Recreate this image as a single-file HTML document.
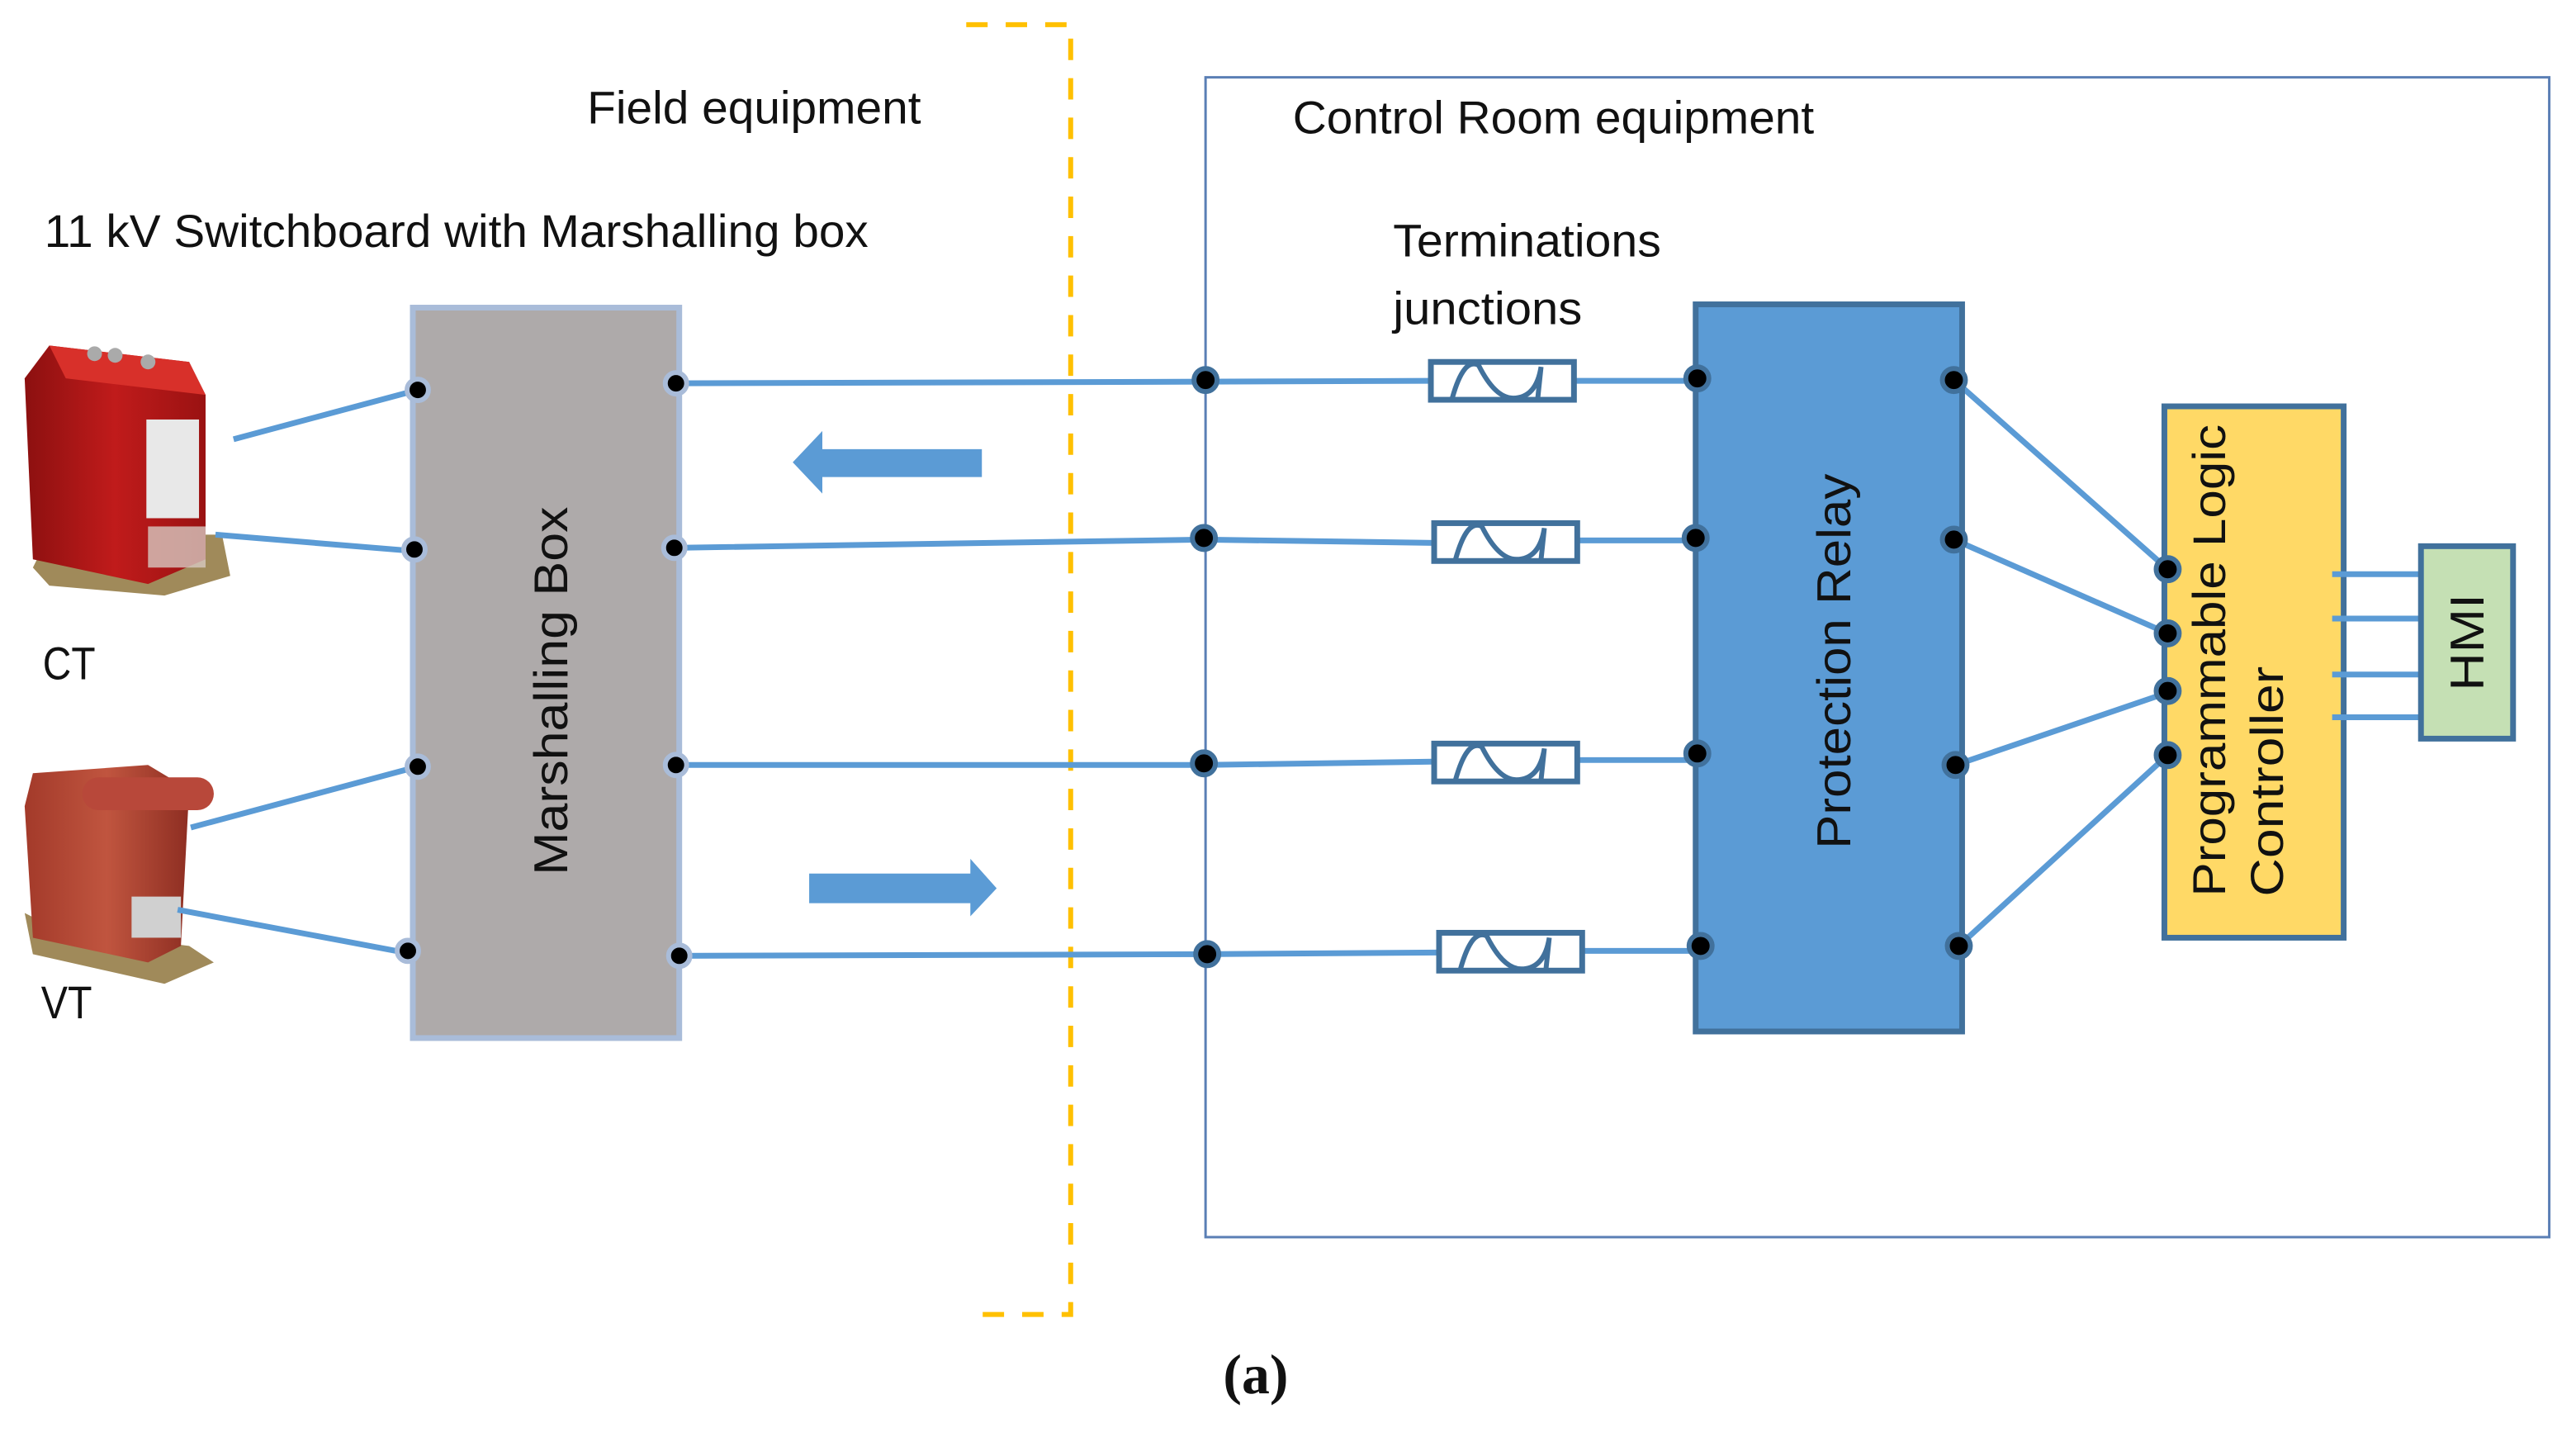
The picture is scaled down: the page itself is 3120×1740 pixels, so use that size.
<!DOCTYPE html>
<html><head><meta charset="utf-8"><style>html,body{margin:0;padding:0;background:#fff}svg{display:block}</style></head>
<body>
<svg width="3120" height="1740" viewBox="0 0 3120 1740" xmlns="http://www.w3.org/2000/svg" font-family="Liberation Sans, sans-serif">
<defs>
<linearGradient id="ctg" x1="0" x2="1"><stop offset="0" stop-color="#8c1010"/><stop offset="0.5" stop-color="#c01b1b"/><stop offset="1" stop-color="#9a1212"/></linearGradient>
<linearGradient id="vtg" x1="0" x2="1"><stop offset="0" stop-color="#a33a2a"/><stop offset="0.5" stop-color="#c0553f"/><stop offset="1" stop-color="#8e2e22"/></linearGradient>
<g id="term"><rect x="0" y="0" width="174" height="46" fill="#fff" stroke="#41719C" stroke-width="7"/><path d="M26 44 Q40 -6 58 4 Q78 44 100 44 Q128 44 134 6 L130 44" fill="none" stroke="#41719C" stroke-width="6"/></g>
</defs>
<g transform="scale(0.996)">
<path d="M1175 30 H1302 V1598 H1175" fill="none" stroke="#FFC000" stroke-width="6" stroke-dasharray="26 22"/>
<rect x="1466" y="94" width="1634" height="1410" fill="none" stroke="#5a7fb5" stroke-width="3"/>
<g font-size="56" fill="#111">
<text x="714" y="150" textLength="406" lengthAdjust="spacingAndGlyphs">Field equipment</text>
<text x="54" y="300" textLength="1002" lengthAdjust="spacingAndGlyphs">11 kV Switchboard with Marshalling box</text>
<text x="1572" y="162" textLength="634" lengthAdjust="spacingAndGlyphs">Control Room equipment</text>
<text x="1694" y="312" textLength="326" lengthAdjust="spacingAndGlyphs">Terminations</text>
<text x="1694" y="394" textLength="230" lengthAdjust="spacingAndGlyphs">junctions</text>
<text x="52" y="826" textLength="64" lengthAdjust="spacingAndGlyphs">CT</text>
<text x="50" y="1238" textLength="62" lengthAdjust="spacingAndGlyphs">VT</text>
</g>
<g>
<polygon points="40,690 60,650 270,650 280,700 200,724 60,712" fill="#a08a5a"/>
<polygon points="60,420 230,440 250,480 250,680 180,710 40,680 30,460" fill="url(#ctg)"/>
<polygon points="60,420 230,440 250,480 80,460" fill="#d8302a"/>
<rect x="178" y="510" width="64" height="120" fill="#e8e8e8"/>
<rect x="180" y="640" width="70" height="50" fill="#d7c8c0" opacity="0.8"/>
<circle cx="115" cy="430" r="9" fill="#aaa"/><circle cx="140" cy="432" r="9" fill="#aaa"/><circle cx="180" cy="440" r="9" fill="#aaa"/>
</g>
<g>
<polygon points="30,1110 70,1130 230,1150 260,1170 200,1196 40,1160" fill="#a08a5a"/>
<polygon points="40,940 180,930 230,960 220,1150 180,1170 40,1140 30,980" fill="url(#vtg)"/>
<rect x="100" y="945" width="160" height="40" rx="20" fill="#b8483a"/>
<rect x="160" y="1090" width="60" height="50" fill="#d0d0d0"/>
</g>
<g stroke="#5B9BD5" stroke-width="7">
<line x1="284" y1="534" x2="508" y2="474"/>
<line x1="262" y1="650" x2="504" y2="670"/>
<line x1="232" y1="1006" x2="508" y2="932"/>
<line x1="216" y1="1106" x2="524" y2="1164"/>
</g>
<rect x="502" y="374" width="324" height="888" fill="#AEAAAA" stroke="#A9BCD9" stroke-width="7"/>
<text transform="translate(690,840) rotate(-90)" text-anchor="middle" font-size="58" fill="#111" textLength="448" lengthAdjust="spacingAndGlyphs">Marshalling Box</text>
<g stroke="#5B9BD5" stroke-width="7" fill="none">
<path d="M822 466 L1466 464 L1740 463"/>
<path d="M820 666 L1464 656 L1742 660"/>
<path d="M822 930 L1464 930 L1742 926"/>
<path d="M826 1162 L1468 1160 L1748 1158"/>
<path d="M1914 463 H2064"/><path d="M1918 657 H2062"/><path d="M1918 924 H2064"/><path d="M1922 1156 H2068"/>
<line x1="2376" y1="462" x2="2636" y2="692"/>
<line x1="2376" y1="656" x2="2636" y2="770"/>
<line x1="2378" y1="930" x2="2636" y2="842"/>
<line x1="2382" y1="1150" x2="2636" y2="918"/>
</g>
<polygon points="964,562 1000,524 1000,546 1194,546 1194,580 1000,580 1000,600" fill="#5B9BD5"/>
<polygon points="984,1062 1180,1062 1180,1044 1212,1080 1180,1114 1180,1098 984,1098" fill="#5B9BD5"/>
<use href="#term" x="1740" y="440"/>
<use href="#term" x="1744" y="636"/>
<use href="#term" x="1744" y="904"/>
<use href="#term" x="1750" y="1134"/>
<rect x="2062" y="370" width="324" height="884" fill="#5B9BD5" stroke="#41719C" stroke-width="7"/>
<text transform="translate(2250,804) rotate(-90)" text-anchor="middle" font-size="58" fill="#111" textLength="456" lengthAdjust="spacingAndGlyphs">Protection Relay</text>
<rect x="2632" y="494" width="218" height="646" fill="#FFD966" stroke="#41719C" stroke-width="7"/>
<text transform="translate(2706,1090) rotate(-90)" font-size="56" fill="#111" textLength="574" lengthAdjust="spacingAndGlyphs">Programmable Logic</text>
<text transform="translate(2776,1090) rotate(-90)" font-size="56" fill="#111" textLength="280" lengthAdjust="spacingAndGlyphs">Controller</text>
<g stroke="#5B9BD5" stroke-width="7"><line x1="2836" y1="698" x2="2944" y2="698"/><line x1="2836" y1="752" x2="2944" y2="752"/><line x1="2836" y1="820" x2="2944" y2="820"/><line x1="2836" y1="872" x2="2944" y2="872"/></g>
<rect x="2944" y="664" width="112" height="234" fill="#C5E0B4" stroke="#41719C" stroke-width="7"/>
<text transform="translate(3020,781) rotate(-90)" text-anchor="middle" font-size="58" fill="#111" textLength="118" lengthAdjust="spacingAndGlyphs">HMI</text>
<g fill="#000" stroke="#A9BCD9" stroke-width="6">
<circle cx="508" cy="474" r="13"/><circle cx="504" cy="668" r="13"/><circle cx="508" cy="932" r="13"/><circle cx="496" cy="1156" r="13"/>
<circle cx="822" cy="466" r="13"/><circle cx="820" cy="666" r="13"/><circle cx="822" cy="930" r="13"/><circle cx="826" cy="1162" r="13"/>
</g>
<g fill="#000" stroke="#41719C" stroke-width="6">
<circle cx="1466" cy="462" r="14"/><circle cx="1464" cy="654" r="14"/><circle cx="1464" cy="928" r="14"/><circle cx="1468" cy="1160" r="14"/>
<circle cx="2064" cy="460" r="14"/><circle cx="2062" cy="654" r="14"/><circle cx="2064" cy="916" r="14"/><circle cx="2068" cy="1150" r="14"/>
<circle cx="2376" cy="462" r="14"/><circle cx="2376" cy="656" r="14"/><circle cx="2378" cy="930" r="14"/><circle cx="2382" cy="1150" r="14"/>
<circle cx="2636" cy="692" r="14"/><circle cx="2636" cy="770" r="14"/><circle cx="2636" cy="840" r="14"/><circle cx="2636" cy="918" r="14"/>
</g>
<text x="1527" y="1694" text-anchor="middle" font-family="Liberation Serif, serif" font-weight="bold" font-size="68" fill="#111">(a)</text>
</g>
</svg>
</body></html>
